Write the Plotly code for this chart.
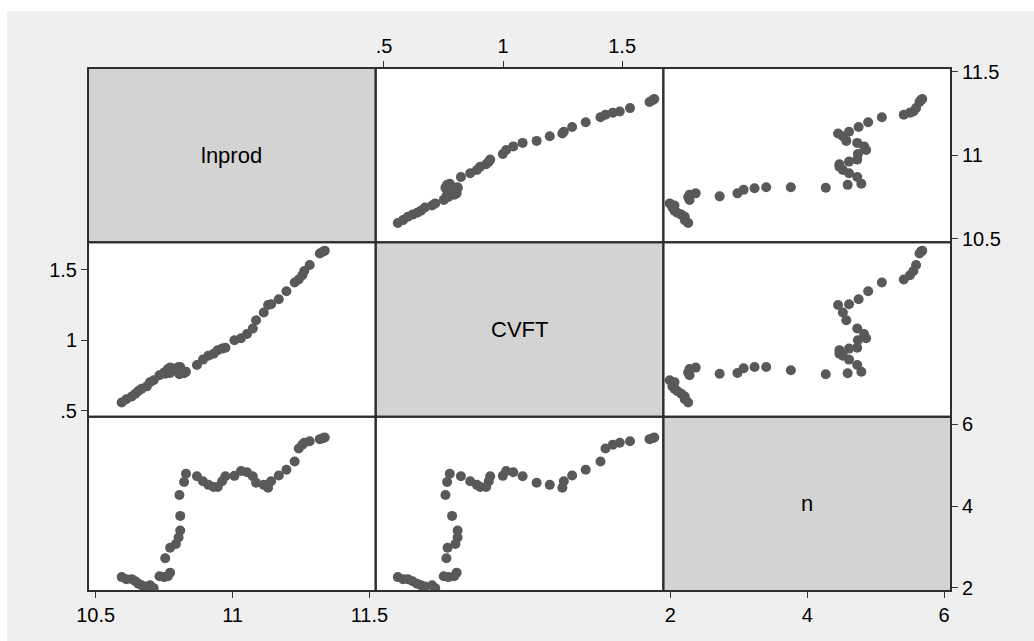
import plotly.graph_objects as go
from plotly.subplots import make_subplots

# Observations (one entry per period)
lnprod = [10.595, 10.612, 10.632, 10.645, 10.656, 10.668, 10.687, 10.699, 10.712,
          10.733, 10.750, 10.764, 10.772, 10.754, 10.772, 10.793, 10.803, 10.809,
          10.809, 10.806, 10.823, 10.830, 10.870, 10.892, 10.912, 10.931, 10.946,
          10.962, 10.974, 11.007, 11.031, 11.053, 11.074, 11.086, 11.114, 11.130,
          11.141, 11.169, 11.197, 11.227, 11.242, 11.255, 11.262, 11.282, 11.319,
          11.337, 11.330]
cvft = [0.558, 0.580, 0.600, 0.620, 0.639, 0.655, 0.672, 0.702, 0.715,
        0.751, 0.770, 0.795, 0.805, 0.762, 0.767, 0.800, 0.809, 0.809,
        0.786, 0.758, 0.765, 0.776, 0.823, 0.862, 0.890, 0.904, 0.929,
        0.940, 0.946, 0.999, 1.013, 1.043, 1.082, 1.141, 1.196, 1.249,
        1.255, 1.290, 1.347, 1.409, 1.430, 1.461, 1.490, 1.533, 1.615,
        1.635, 1.628]
n_obs = [2.26, 2.21, 2.21, 2.16, 2.10, 2.06, 2.03, 2.06, 1.99,
         2.28, 2.26, 2.28, 2.37, 2.72, 2.98, 3.07, 3.23, 3.40,
         3.76, 4.27, 4.59, 4.79, 4.73, 4.61, 4.52, 4.47, 4.47,
         4.61, 4.73, 4.74, 4.86, 4.83, 4.73, 4.57, 4.52, 4.45,
         4.61, 4.75, 4.89, 5.09, 5.41, 5.50, 5.55, 5.59, 5.64,
         5.68, 5.66]

var_names = ["lnprod", "CVFT", "n"]
var_data = {"lnprod": lnprod, "CVFT": cvft, "n": n_obs}

tick_vals = {"lnprod": [10.5, 11, 11.5], "CVFT": [0.5, 1, 1.5], "n": [2, 4, 6]}
tick_text = {"lnprod": ["10.5", "11", "11.5"], "CVFT": [".5", "1", "1.5"], "n": ["2", "4", "6"]}

# axis extents used when a variable is on the horizontal / vertical axis
x_range = {"lnprod": [10.472, 11.523], "CVFT": [0.465, 1.673], "n": [1.897, 6.10]}
y_range = {"lnprod": [10.479, 11.522], "CVFT": [0.457, 1.694], "n": [1.92, 6.19]}

OUTER_BG = "#efefef"
DIAG_BG = "#d3d3d3"
MARKER = "#595959"
FRAME = "#2e2e2e"
FONT = "Liberation Sans, Arial, sans-serif"

fig = make_subplots(rows=3, cols=3, horizontal_spacing=0, vertical_spacing=0)

for i, row_var in enumerate(var_names):
    for j, col_var in enumerate(var_names):
        r, c = i + 1, j + 1
        k = i * 3 + j + 1
        suffix = "" if k == 1 else str(k)
        if i != j:
            fig.add_trace(
                go.Scatter(
                    x=var_data[col_var], y=var_data[row_var], mode="markers",
                    marker=dict(color=MARKER, size=10, line=dict(width=0)),
                    showlegend=False, hoverinfo="skip",
                ),
                row=r, col=c,
            )
        else:
            # empty trace so the diagonal cell keeps its axes
            fig.add_trace(
                go.Scatter(x=[None], y=[None], mode="markers",
                           showlegend=False, hoverinfo="skip"),
                row=r, col=c,
            )
            fig.add_shape(
                type="rect", xref=f"x{suffix} domain", yref=f"y{suffix} domain",
                x0=0, x1=1, y0=0, y1=1, fillcolor=DIAG_BG, line_width=0, layer="below",
            )
            fig.add_annotation(
                text=row_var, xref=f"x{suffix} domain", yref=f"y{suffix} domain",
                x=0.5, y=0.5, showarrow=False,
                font=dict(family=FONT, size=22, color="#000000"),
            )
        # cell frame
        fig.add_shape(
            type="rect", xref=f"x{suffix} domain", yref=f"y{suffix} domain",
            x0=0, x1=1, y0=0, y1=1, fillcolor="rgba(0,0,0,0)",
            line=dict(color=FRAME, width=2), layer="above",
        )
        fig.update_xaxes(
            range=x_range[col_var], showgrid=False, zeroline=False, showline=False,
            showticklabels=False, ticks="", row=r, col=c,
        )
        fig.update_yaxes(
            range=y_range[row_var], showgrid=False, zeroline=False, showline=False,
            showticklabels=False, ticks="", row=r, col=c,
        )

tick_style = dict(
    showticklabels=True, ticks="outside", ticklen=6, tickwidth=1, tickcolor="#333333",
    tickfont=dict(family=FONT, size=20, color="#000000"),
)

# labelled axes alternate around the outside of the matrix
fig.update_xaxes(tickvals=tick_vals["lnprod"], ticktext=tick_text["lnprod"],
                 side="bottom", row=3, col=1, **tick_style)
fig.update_xaxes(tickvals=tick_vals["CVFT"], ticktext=tick_text["CVFT"],
                 side="top", row=1, col=2, **tick_style)
fig.update_xaxes(tickvals=tick_vals["n"], ticktext=tick_text["n"],
                 side="bottom", row=3, col=3, **tick_style)
fig.update_yaxes(tickvals=tick_vals["lnprod"], ticktext=tick_text["lnprod"],
                 side="right", row=1, col=3, **tick_style)
fig.update_yaxes(tickvals=tick_vals["CVFT"], ticktext=tick_text["CVFT"],
                 side="left", row=2, col=1, **tick_style)
fig.update_yaxes(tickvals=tick_vals["n"], ticktext=tick_text["n"],
                 side="right", row=3, col=3, **tick_style)

# thin white strips along the top and left page edges
fig.add_shape(type="rect", xref="paper", yref="paper", x0=-0.2, x1=1.2,
              y0=1.109, y1=1.2, fillcolor="white", line_width=0, layer="below")
fig.add_shape(type="rect", xref="paper", yref="paper", x0=-0.2, x1=-0.0939,
              y0=-0.2, y1=1.2, fillcolor="white", line_width=0, layer="below")

fig.update_layout(
    width=1034, height=641, autosize=False,
    margin=dict(l=88, r=83, t=68, b=50),
    paper_bgcolor=OUTER_BG, plot_bgcolor="white",
    font=dict(family=FONT, color="#000000"),
    showlegend=False,
)

fig.write_html("out.html")
